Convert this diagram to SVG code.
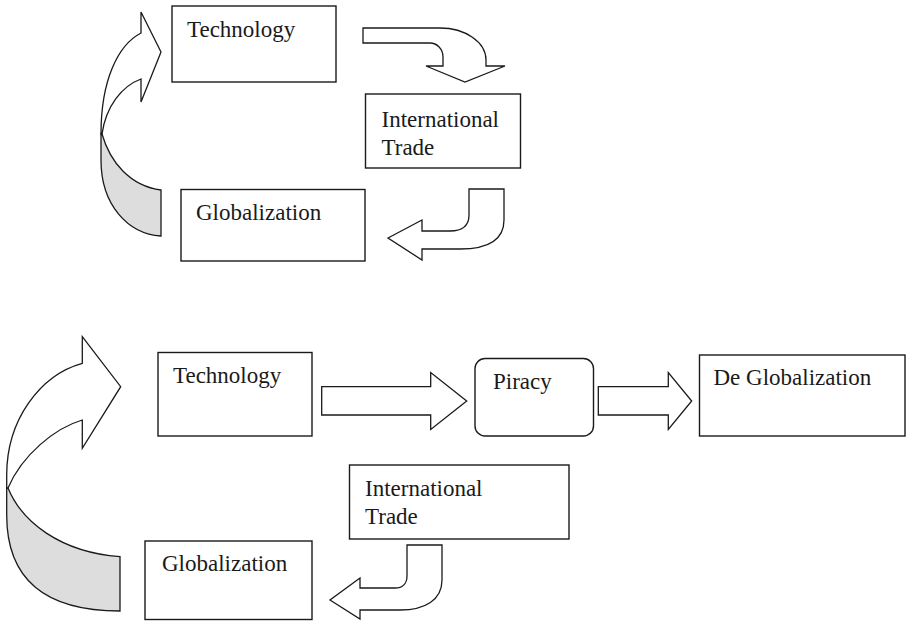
<svg xmlns="http://www.w3.org/2000/svg" width="907" height="621" viewBox="0 0 907 621">
<style>
.box{fill:#fff;stroke:#1a1a1a;stroke-width:1.4}
.arr{fill:#fff;stroke:#1a1a1a;stroke-width:1.3;stroke-linejoin:miter}
.back{fill:#dcdddc;stroke:#1a1a1a;stroke-width:1.3}
text{font-family:"Liberation Serif","Times New Roman",serif;font-size:23px;fill:#1a1a1a}
</style>
<rect width="907" height="621" fill="#fff"/>
<g id="connectors">
<!-- top loop: Globalization -> Technology -->
<path class="back" d="M102,134 C110,162 130,186 161,190 L161,236 C128,234 101,205 101,160 L101,134 Z"/>
<path class="arr" d="M141,33 L141,12 L161,52 L141,102 L141,79 C122,86 106,106 102,134 L101,134 C101,80 118,45 141,33 Z"/>
<!-- top: Technology -> International Trade -->
<path class="arr" d="M363,28 L440,28 C465,28 486,42 486,60 L486,66 L505,66 L465,82 L426,66 L443,66 L443,57 C443,49 437,43 430,43 L363,43 Z"/>
<!-- top: International Trade -> Globalization -->
<path class="arr" d="M469,189 L504,189 L504,220 C504,240 488,249 460,249 L422,249 L422,260 L388,238 L422,220 L422,231 L450,231 C462,231 469,226 469,215 Z"/>
<!-- bottom loop: Globalization -> Technology -->
<path class="back" d="M8,488 C22,522 60,552 120,556.7 L120,611 C45,611 6.7,580 6.7,515 L6.7,488 Z"/>
<path class="arr" d="M82.3,363.3 L82.3,336.7 L120.7,386.7 L82.3,448.3 L82.3,420 C55,428 22,455 8,488 L6.7,488 L6.7,475 C6.7,420 40,375 82.3,363.3 Z"/>
<!-- bottom: Technology -> Piracy -->
<path class="arr" d="M321.7,386.7 L430.7,386.7 L430.7,372.5 L466.7,401 L430.7,429.5 L430.7,415 L321.7,415 Z"/>
<!-- bottom: Piracy -> De Globalization -->
<path class="arr" d="M598.3,386.7 L668.3,386.7 L668.3,372.5 L691.7,401 L668.3,429.5 L668.3,415 L598.3,415 Z"/>
<!-- bottom: International Trade -> Globalization -->
<path class="arr" d="M407,545 L442,545 L442,580 C442,600 425,610 400,610 L360,610 L360,619 L330,600 L360,578 L360,588 L395,588 C402,588 407,584 407,576 Z"/>
</g>
<g id="top-technology">
<rect class="box" x="172" y="6" width="164" height="76"/>
<text x="187" y="37">Technology</text>
</g>
<g id="top-international-trade">
<rect class="box" x="365.5" y="94" width="155" height="74"/>
<text x="381.5" y="127">International</text>
<text x="381.5" y="155">Trade</text>
</g>
<g id="top-globalization">
<rect class="box" x="181" y="189.5" width="184" height="71.5"/>
<text x="196" y="220">Globalization</text>
</g>
<g id="bottom-technology">
<rect class="box" x="158" y="352.5" width="154" height="83.5"/>
<text x="173" y="383">Technology</text>
</g>
<g id="piracy">
<rect class="box" x="475" y="358.5" width="118.5" height="77.5" rx="10"/>
<text x="493" y="389">Piracy</text>
</g>
<g id="de-globalization">
<rect class="box" x="699.5" y="355" width="205.5" height="81"/>
<text x="713.5" y="385">De Globalization</text>
</g>
<g id="bottom-international-trade">
<rect class="box" x="349.5" y="465" width="219.5" height="74"/>
<text x="365" y="496">International</text>
<text x="365" y="524">Trade</text>
</g>
<g id="bottom-globalization">
<rect class="box" x="145" y="541" width="167" height="78.5"/>
<text x="162" y="571">Globalization</text>
</g>
</svg>
